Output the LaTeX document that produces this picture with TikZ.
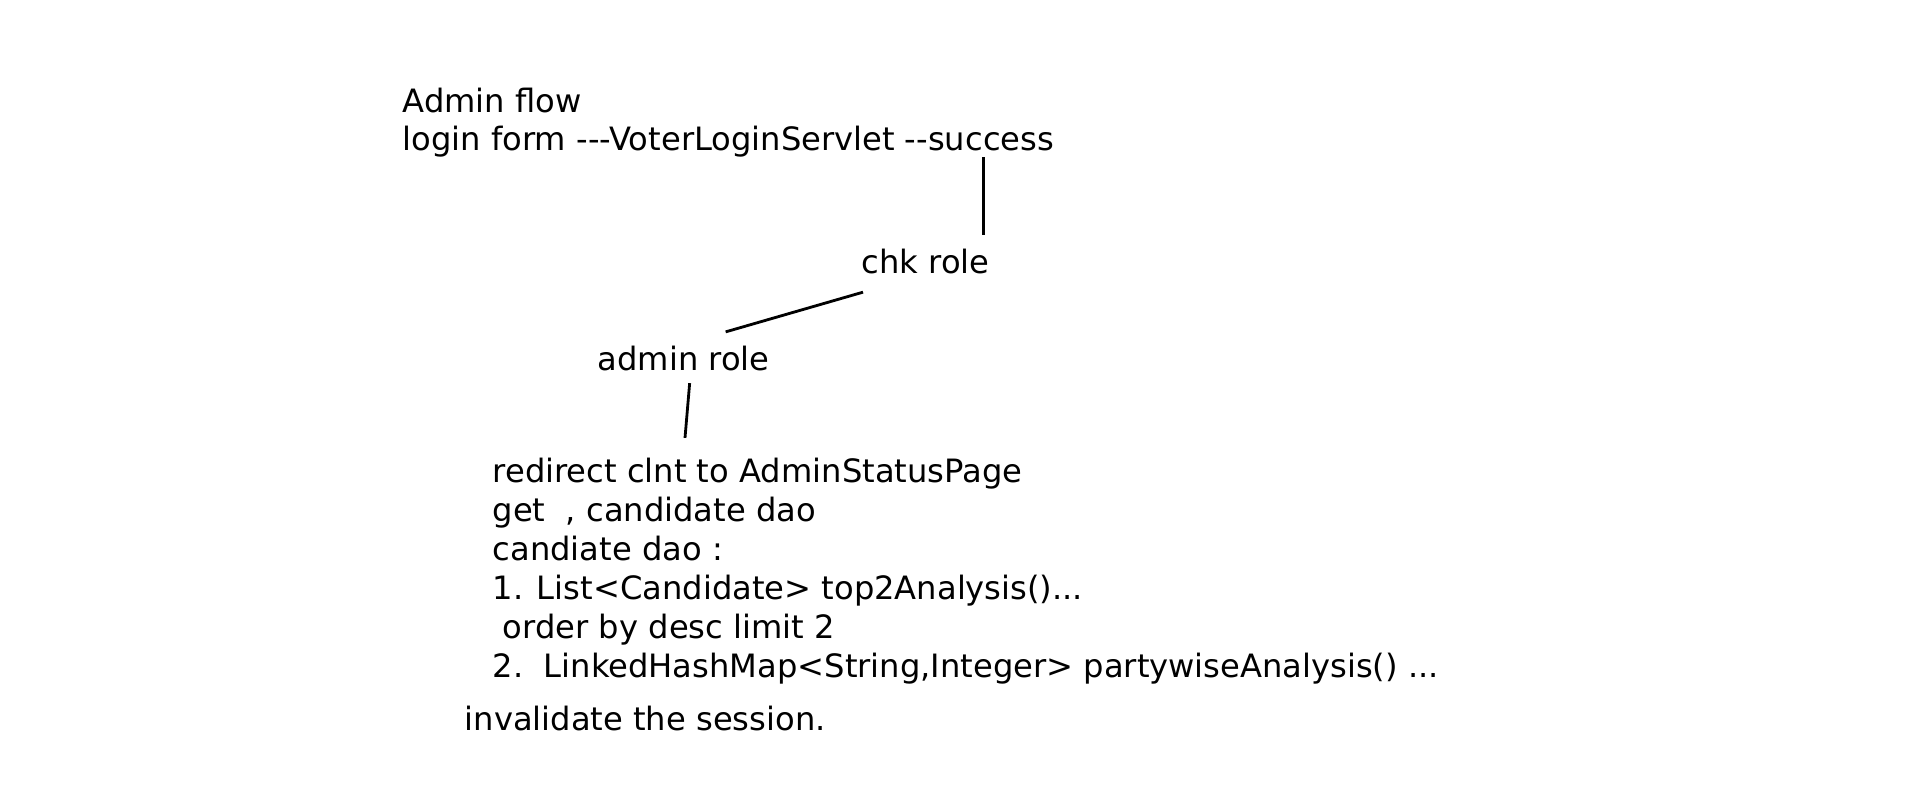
\documentclass[tikz,border=0pt]{standalone}
\usepackage{fontspec}
\setmainfont{DejaVu Sans}[Ligatures=TeXOff]
\tikzset{txt/.style={anchor=base west,inner sep=0pt,font=\fontsize{9.15pt}{11pt}\selectfont},
  wire/.style={line width=0.8pt}}
\begin{document}
\begin{tikzpicture}
\useasboundingbox(0,0)rectangle(19.14,-7.90);
\node[txt](admin)at(4.02,-1.12){Admin flow};
\node[txt](login)at(4.02,-1.50){login form ---VoterLoginServlet --success};
\node[txt](chk)at(8.61,-2.73){chk role};
\node[txt](adminrole)at(5.97,-3.70){admin role};
%
\node[txt](redirect)at(4.92,-4.82){redirect clnt to AdminStatusPage};
\node[txt](getdao)at(4.92,-5.21){get\ \ , candidate dao};
\node[txt](daohead)at(4.92,-5.60){candiate dao :};
\node[txt](itemone)at(4.92,-5.99){1. List<Candidate> top2Analysis()...};
\node[txt](orderby)at(4.92,-6.38){\ order by desc limit 2};
\node[txt](itemtwo)at(4.92,-6.77){2.\ \ LinkedHashMap<String,Integer> partywiseAnalysis() ...};
\node[txt](invalid)at(4.64,-7.30){invalidate the session.};
%
\draw[wire]([shift={(-0.07,0.13)}]chk.north east)--([shift={(-0.07,0)}]chk.north east|-login.south);
\draw[wire]([shift={(0.02,-0.18)}]chk.south west)--([shift={(0.42,0.13)}]adminrole.north);
\draw[wire]([shift={(0.06,-0.12)}]adminrole.south)--([shift={(1.93,0.19)}]redirect.north west);
\end{tikzpicture}
\end{document}
